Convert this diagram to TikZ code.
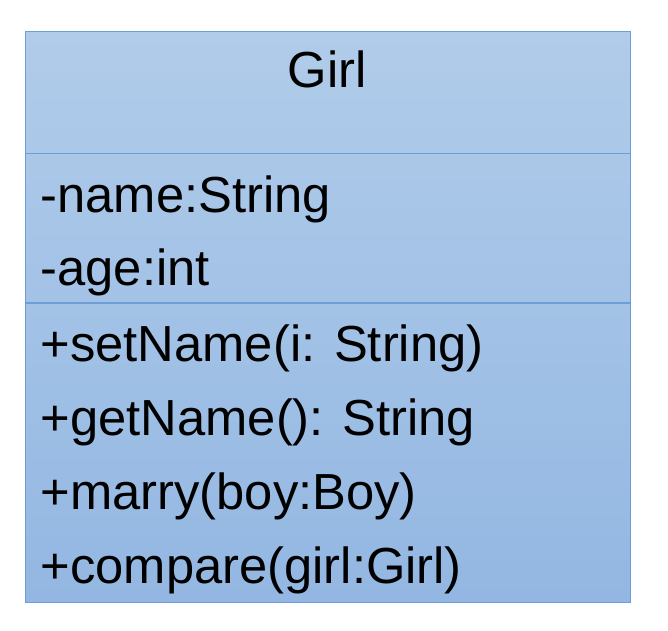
\documentclass[tikz,border=0pt]{standalone}
\usepackage{fontspec}
\setmainfont{Liberation Sans}
\definecolor{topc}{HTML}{B1CCEA}
\definecolor{botc}{HTML}{93B7E2}
\definecolor{linec}{HTML}{6C9FD8}
\begin{document}
\begin{tikzpicture}[x=1pt,y=-1pt,
  member/.style={anchor=base west,inner sep=0pt,font=\fontsize{50.7}{50.7}\selectfont},
  title/.style={anchor=base,inner sep=0pt,font=\fontsize{50.7}{50.7}\selectfont}]
\useasboundingbox (0,0) rectangle (668,630);
\node[draw=linec,line width=1.2pt,top color=topc,bottom color=botc,minimum width=605pt,minimum height=571pt,inner sep=0pt,anchor=north west] (box) at (24.5,30.5) {};
\coordinate (d1l) at (24.5,153.5);
\coordinate (d1r) at (629.5,153.5);
\coordinate (d2l) at (24.5,303);
\coordinate (d2r) at (629.5,303);
\draw[linec,line width=1.2pt] (d1l) -- (d1r);
\draw[linec,line width=1.2pt] (d2l) -- (d2r);
\node[title] (t) at (327,87) {Girl};
\node[member] (a1) at (40.5,212) {-name:String};
\node[member] (a2) at (40.5,285) {-age:int};
\node[member] (m1) at (40.5,361.5) {+setName(i: String)};
\node[member] (m2) at (40.5,435.5) {+getName(): String};
\node[member] (m3) at (40.5,509.5) {+marry(boy:Boy)};
\node[member] (m4) at (40.5,583.5) {+compare(girl:Girl)};
\end{tikzpicture}
\end{document}
